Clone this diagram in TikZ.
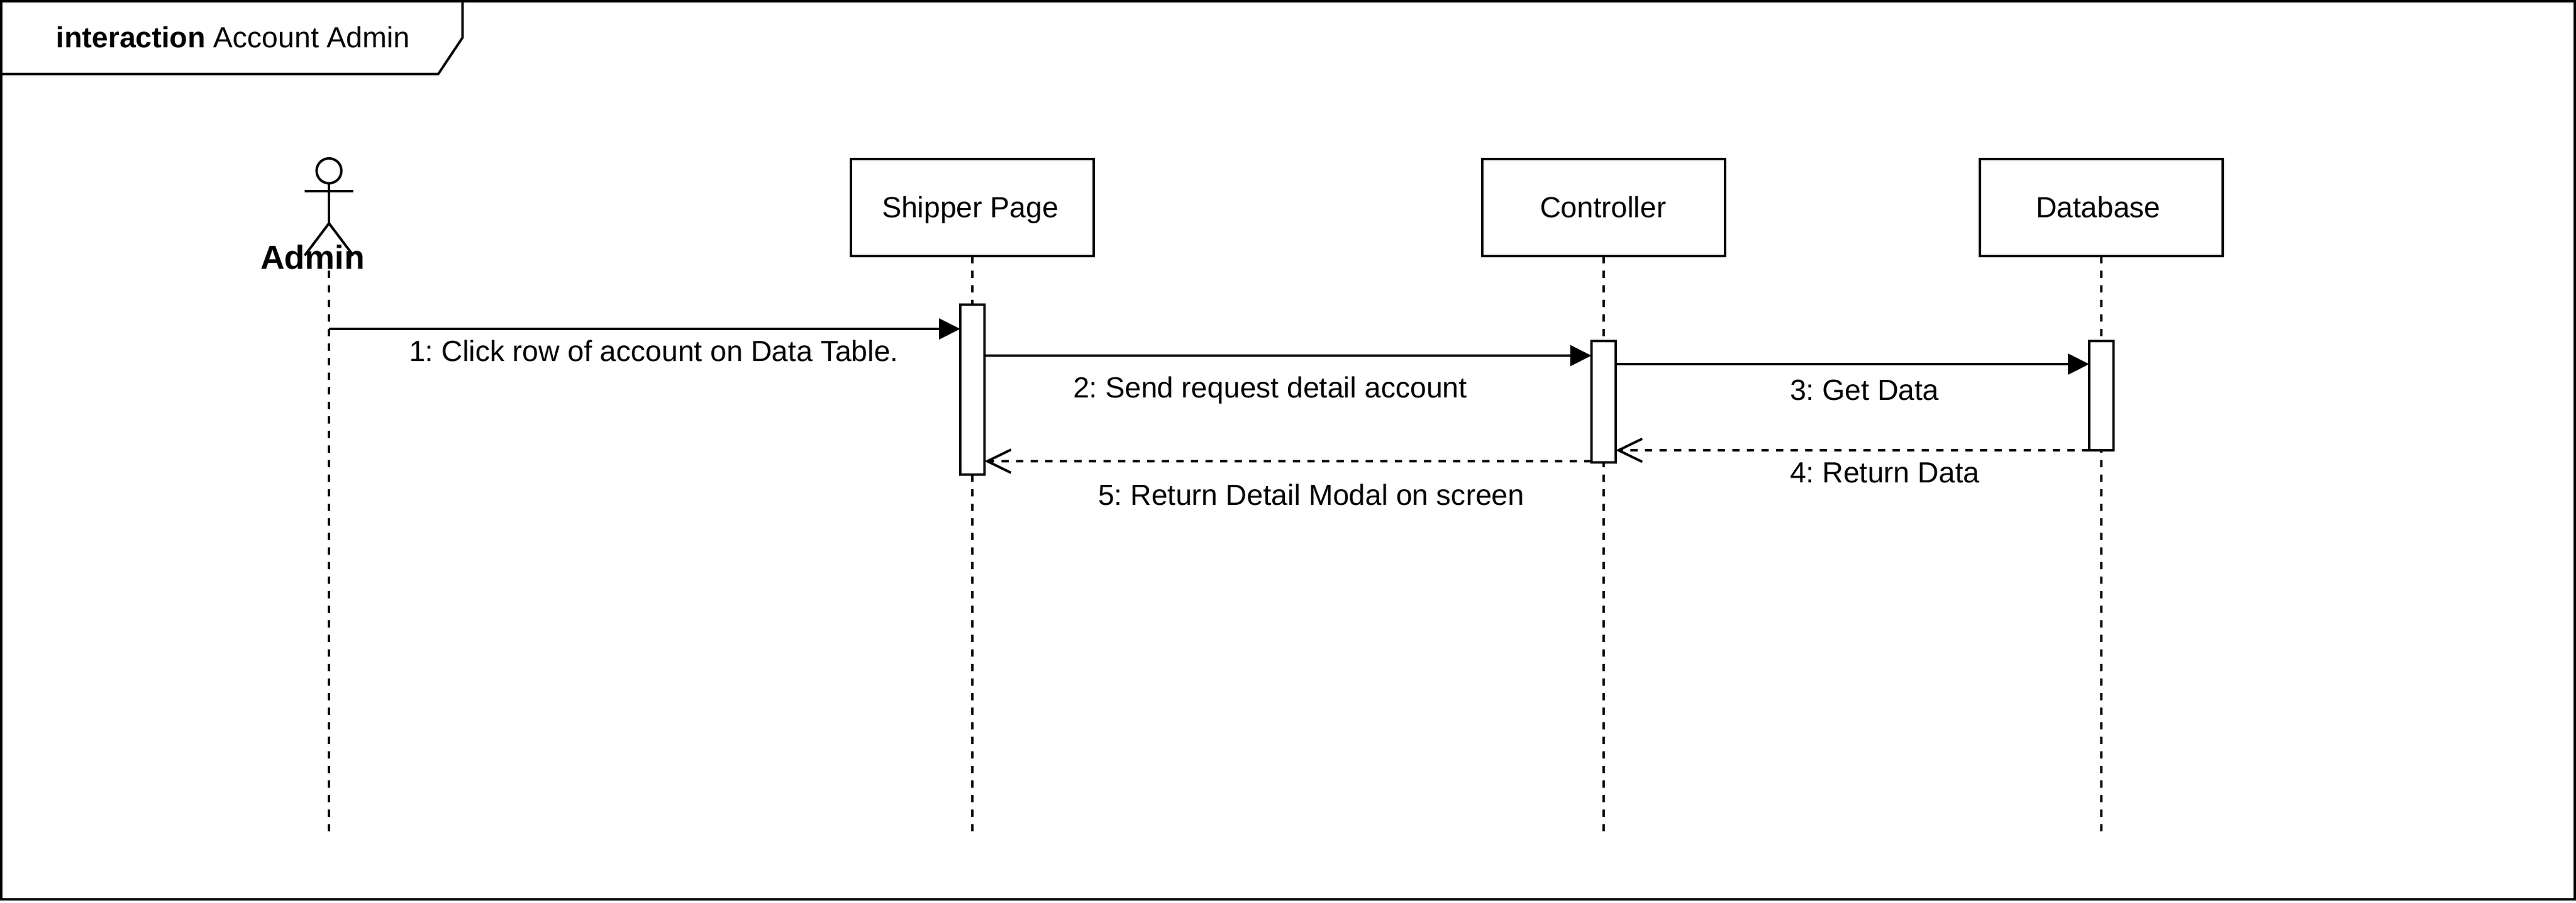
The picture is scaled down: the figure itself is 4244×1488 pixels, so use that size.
\documentclass[tikz,border=0pt]{standalone}
\usepackage{fontspec}
\setmainfont{Liberation Sans}
\usetikzlibrary{arrows.meta}
\tikzset{
  x=0.01cm,y=-0.01cm,
  every node/.style={inner sep=0pt,outer sep=0pt},
  ln/.style={line width=4*0.01cm,line join=miter},
  txt/.style={font=\frenchspacing\fontsize{13.66}{16}\selectfont,anchor=base west,text=black},
  partbox/.style={ln,draw,fill=white,rectangle,minimum width=400*0.01cm,minimum height=160*0.01cm},
  actbox/.style={ln,draw,fill=white,rectangle,minimum width=40*0.01cm},
  lifeline/.style={ln,dash pattern=on 12*0.01cm off 12*0.01cm},
  callmsg/.style={ln,-{Triangle[length=35*0.01cm,width=34*0.01cm]}},
  retmsg/.style={ln,dash pattern=on 12*0.01cm off 12*0.01cm,-{Straight Barb[length=39*0.01cm,width=38*0.01cm,line width=4*0.01cm]}},
}
\begin{document}
\begin{tikzpicture}
\useasboundingbox (0,0) rectangle (4244,1488);
\fill[white] (0,0) rectangle (4244,1488);
% frame
\node[ln,draw,rectangle,anchor=north west,minimum width=4240*0.01cm,minimum height=1480*0.01cm] (frame) at (2,2) {};
\coordinate (tagA) at (2,122);
\coordinate (tagB) at (722,122);
\coordinate (tagC) at (762,62);
\coordinate (tagD) at (762,2);
\draw[ln] (tagA) -- (tagB) -- (tagC) -- (tagD);
\node[txt] (title) at (93,79) {\textbf{interaction} Account Admin};
% lifeline ends
\coordinate (endA) at (542,1370);
\coordinate (endS) at (1602,1370);
\coordinate (endC) at (2642,1370);
\coordinate (endD) at (3462,1370);
% participants
\node[partbox] (shipper) at (1602,342) {};
\node[partbox] (controller) at (2642,342) {};
\node[partbox] (database) at (3462,342) {};
\node[txt] (shipperT) at (1453,359) {Shipper Page};
\node[txt] (controllerT) at (2537,359) {Controller};
\node[txt] (databaseT) at (3354,359) {Database};
% actor
\node[ln,draw,circle,minimum size=41*0.01cm] (head) at (542,281.5) {};
\coordinate (armL) at (502,315);
\coordinate (armR) at (582,315);
\coordinate (hip) at (542,368);
\coordinate (legL) at (502,421);
\coordinate (legR) at (582,421);
\coordinate (actorFoot) at (542,422);
\draw[ln] (head.south) -- (hip);
\draw[ln] (armL) -- (armR);
\draw[ln] (legL) -- (hip) -- (legR);
\draw[lifeline] (actorFoot) -- (endA);
\node[anchor=base west,font=\bfseries\fontsize{15.7}{18}\selectfont] (admin) at (429,443) {Admin};
% lifelines
\draw[lifeline] (shipper.south) -- (endS);
\draw[lifeline] (controller.south) -- (endC);
\draw[lifeline] (database.south) -- (endD);
% activations
\node[actbox,minimum height=280*0.01cm] (a1) at (1602,642) {};
\node[actbox,minimum height=200*0.01cm] (a2) at (2642,662) {};
\node[actbox,minimum height=180*0.01cm] (a3) at (3462,652) {};
% messages
\coordinate (m1s) at (542,542);
\draw[callmsg] (m1s) -- (a1.west |- m1s);
\coordinate (m2s) at (a1.east |- 0,586);
\draw[callmsg] (m2s) -- (a2.west |- m2s);
\coordinate (m3s) at (a2.east |- 0,600);
\draw[callmsg] (m3s) -- (a3.west |- m3s);
\coordinate (m4s) at (a3.west |- 0,742);
\draw[retmsg] (m4s) -- (a2.east |- m4s);
\coordinate (m5s) at (a2.west |- 0,760);
\draw[retmsg] (m5s) -- (a1.east |- m5s);
% labels
\node[txt] (l1) at (674,595) {1: Click row of account on Data Table.};
\node[txt] (l2) at (1768,655) {2: Send request detail account};
\node[txt] (l3) at (2949,659) {3: Get Data};
\node[txt] (l4) at (2949,795) {4: Return Data};
\node[txt] (l5) at (1809,832) {5: Return Detail Modal on screen};
\end{tikzpicture}
\end{document}
